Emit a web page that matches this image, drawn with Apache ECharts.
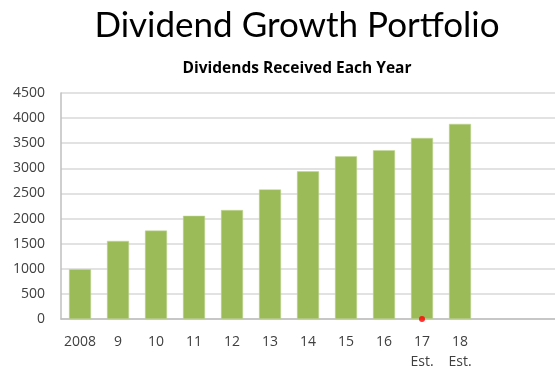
<!DOCTYPE html>
<html><head><meta charset="utf-8">
<script src="https://cdn.jsdelivr.net/npm/echarts@6/dist/echarts.min.js"></script>
<style>html,body{margin:0;padding:0;background:#fff}#c{width:555px;height:372px}</style>
</head><body><div id="c"></div>
<script>
const categories = ['2008','9','10','11','12','13','14','15','16','17\nEst.','18\nEst.','',''];
const dividends = [990, 1555, 1760, 2055, 2170, 2580, 2940, 3240, 3360, 3605, 3885, null, null];
const markerCategory = '17\nEst.';
const markerValue = 0;
const yTicks = {min: 0, max: 4500, interval: 500};

const chart = echarts.init(document.getElementById('c'));
chart.setOption({
  animation: false,
  title: [
    {text: 'Dividend Growth Portfolio', left: 292, top: 3, textAlign: 'center',
     textStyle: {fontFamily: 'Lato', fontSize: 35, fontWeight: 'normal', color: '#000'}},
    {text: 'Dividends Received Each Year', left: 292, top: 56, textAlign: 'center',
     textStyle: {fontFamily: 'Open Sans', fontSize: 15.5, fontWeight: 'bold', color: '#000'}}
  ],
  grid: {left: 61, top: 93, width: 503, height: 228, containLabel: false},
  xAxis: {
    type: 'category', data: categories,
    axisLine: {show: true, lineStyle: {color: '#bfbfbf', width: 1.5}},
    axisTick: {show: false},
    axisLabel: {color: '#404040', fontFamily: 'Open Sans', fontSize: 14, margin: 13, lineHeight: 20, interval: 0}
  },
  yAxis: {
    type: 'value', min: yTicks.min, max: yTicks.max, interval: yTicks.interval,
    axisLine: {show: true, lineStyle: {color: '#bfbfbf', width: 1.5}},
    axisTick: {show: false},
    splitLine: {lineStyle: {color: '#d9d9d9', width: 1.5}},
    axisLabel: {color: '#404040', fontFamily: 'Open Sans', fontSize: 14, margin: 16,
                formatter: v => String(v)}
  },
  series: [
    {type: 'bar', data: dividends, barWidth: 22,
     itemStyle: {color: '#9bbb59', borderColor: '#c3d69b', borderWidth: 0.5}},
    {type: 'scatter', data: [[markerCategory, markerValue]], symbolSize: 6,
     itemStyle: {color: '#ff0000'}, z: 5}
  ]
});
</script></body></html>
